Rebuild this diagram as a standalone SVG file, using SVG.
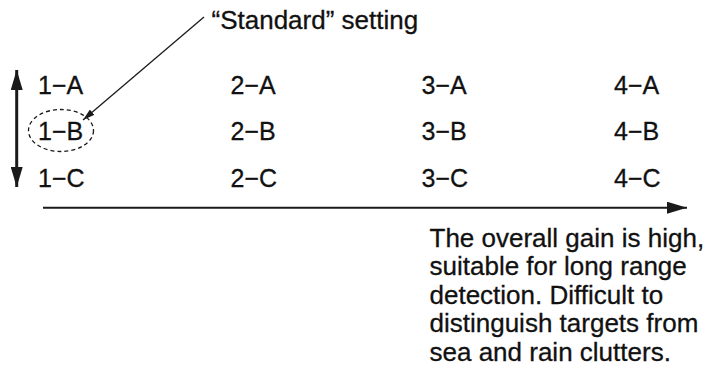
<svg xmlns="http://www.w3.org/2000/svg" width="712" height="369" viewBox="0 0 712 369">
<style>
text{font-family:"Liberation Sans",Arial,sans-serif;fill:#111;stroke:#111;stroke-width:0.3}
.g{font-size:25px}
.p{font-size:26px}
.ln{stroke:#1a1a1a;fill:none}
</style>
<defs>
<marker id="ah" viewBox="0 0 20 12" refX="20" refY="6" markerWidth="20" markerHeight="12" markerUnits="userSpaceOnUse" orient="auto-start-reverse"><path d="M0,0L20,6L0,12z" fill="#1a1a1a"/></marker>
<marker id="sh" viewBox="0 0 12 7" refX="12" refY="3.5" markerWidth="12" markerHeight="7" markerUnits="userSpaceOnUse" orient="auto"><path d="M0,0L12,3.5L0,7z" fill="#1a1a1a"/></marker>
</defs>
<rect width="712" height="369" fill="#fff"/>
<g id="connectors">
<line class="ln" x1="16.7" y1="70" x2="16.7" y2="187" stroke-width="3" marker-start="url(#ah)" marker-end="url(#ah)"/>
<line class="ln" x1="43" y1="207.7" x2="687" y2="207.7" stroke-width="2" marker-end="url(#ah)"/>
<line class="ln" x1="204" y1="17" x2="83" y2="120" stroke-width="1.3" marker-end="url(#sh)"/>
</g>
<g id="standard-label"><text x="211.5" y="29" style="font-size:26px">“Standard” setting</text></g>
<g id="highlight"><ellipse cx="61" cy="130.5" rx="32.5" ry="21" class="ln" stroke-width="1.3" stroke-dasharray="4 3"/></g>
<g id="n1A"><text class="g" x="38" y="93.5">1−A</text></g>
<g id="n1B"><text class="g" x="38" y="140">1−B</text></g>
<g id="n1C"><text class="g" x="38" y="186.5">1−C</text></g>
<g id="n2A"><text class="g" x="230.5" y="93.5">2−A</text></g>
<g id="n2B"><text class="g" x="230.5" y="140">2−B</text></g>
<g id="n2C"><text class="g" x="230.5" y="186.5">2−C</text></g>
<g id="n3A"><text class="g" x="421.5" y="93.5">3−A</text></g>
<g id="n3B"><text class="g" x="421.5" y="140">3−B</text></g>
<g id="n3C"><text class="g" x="421.5" y="186.5">3−C</text></g>
<g id="n4A"><text class="g" x="614" y="93.5">4−A</text></g>
<g id="n4B"><text class="g" x="614" y="140">4−B</text></g>
<g id="n4C"><text class="g" x="614" y="186.5">4−C</text></g>
<g id="description">
<text class="p" x="429.5" y="246.5">The overall gain is high,</text>
<text class="p" x="429.5" y="275">suitable for long range</text>
<text class="p" x="429.5" y="303.5">detection. Difficult to</text>
<text class="p" x="429.5" y="332">distinguish targets from</text>
<text class="p" x="429.5" y="360.5">sea and rain clutters.</text>
</g>
</svg>
